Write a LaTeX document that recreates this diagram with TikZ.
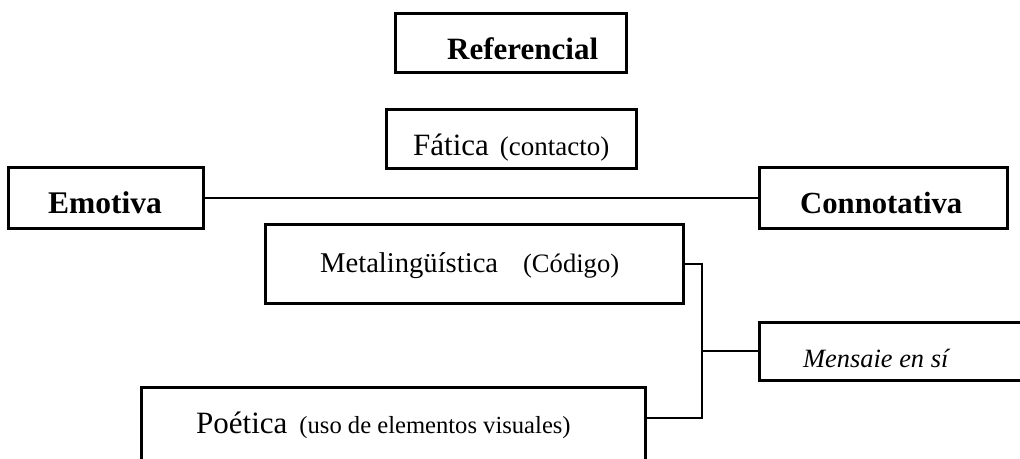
\documentclass[tikz,border=0pt]{standalone}
\usepackage{fontspec}
\setmainfont{Liberation Serif}
\newcommand{\fs}[1]{\fontsize{#1}{#1}\selectfont}
\tikzset{
  box/.style={draw=black, line width=3pt, rectangle, inner sep=0pt},
  conn/.style={draw=black, line width=2pt},
  txt/.style={anchor=base west, inner sep=0pt, text=black},
}
\begin{document}
\begin{tikzpicture}[x=1pt, y=-1pt]
  \fill[white] (0,0) rectangle (1020,458);
  \useasboundingbox (0,0) rectangle (1020,458);
  \clip (0,0) rectangle (1020,458);

  % boxes
  \node[box, minimum width=231pt, minimum height=59pt] (ref) at (510.5,42.5) {};
  \node[box, minimum width=250pt, minimum height=59pt] (fat) at (511,138.5) {};
  \node[box, minimum width=194.5pt, minimum height=61pt] (emo) at (105.75,197.5) {};
  \node[box, minimum width=248pt, minimum height=61pt] (con) at (883,197.5) {};
  \node[box, minimum width=418pt, minimum height=79pt] (meta) at (474,263.5) {};
  \node[box, minimum width=281pt, minimum height=58pt] (mens) at (899.5,351) {};
  \node[box, minimum width=504pt, minimum height=83pt] (poet) at (393,428.5) {};

  % labels
  \node[txt] (ref-t) at (447,59) {\fs{31}\bfseries Referencial};
  \node[txt] (fat-t) at (413,155) {\fs{31}Fática\hspace{11pt}\fs{27}(contacto)};
  \node[txt] (emo-t) at (48,213) {\fs{31.5}\bfseries Emotiva};
  \node[txt] (con-t) at (800,213) {\fs{30.7}\bfseries Connotativa};
  \node[txt] (meta-t) at (320,272) {\fs{28.6}Metalingüística\hspace{25pt}\fs{26.6}(Código)};
  \node[txt] (mens-t) at (803,367) {\fs{26.4}\itshape Mensaie en sí};
  \node[txt] (poet-t) at (196,433) {\fs{31}Poética\hspace{12pt}\fs{24.6}(uso de elementos visuales)};

  % connectors
  \draw[conn] (emo.east) -- (con.west);
  \coordinate (tb) at (702,418);
  \draw[conn] (meta.east) -| (tb) -- (poet.east |- tb);
  \draw[conn] (tb |- mens.west) -- (mens.west);
\end{tikzpicture}
\end{document}
